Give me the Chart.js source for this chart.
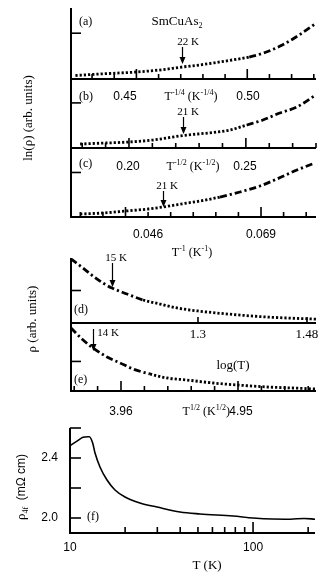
<!DOCTYPE html>
<html>
<head>
<meta charset="utf-8">
<script src="https://cdn.jsdelivr.net/npm/chart.js@4.4.1/dist/chart.umd.min.js"></script>
<style>
  body { margin: 0; background: #fff; }
  #wrap { position: relative; width: 327px; height: 580px; }
  #wrap canvas { position: absolute; left: 0; top: 0; }
</style>
</head>
<body>
<div id="wrap">
  <canvas id="pa" width="327" height="580"></canvas>
  <canvas id="pb" width="327" height="580"></canvas>
  <canvas id="pc" width="327" height="580"></canvas>
  <canvas id="pd" width="327" height="580"></canvas>
  <canvas id="pe" width="327" height="580"></canvas>
  <canvas id="pf" width="327" height="580"></canvas>
</div>
<script>
// (a) ln(rho) vs T^-1/4
const aX = [0.4225, 0.4333, 0.4500, 0.4604, 0.4707, 0.4784, 0.4860, 0.4932, 0.5009, 0.5086, 0.5158, 0.5234, 0.5306];
const aY = [0.076, 0.109, 0.153, 0.196, 0.262, 0.306, 0.360, 0.415, 0.480, 0.589, 0.742, 0.961, 1.201];
const aTicks = [0.43, 0.44, 0.45, 0.46, 0.47, 0.48, 0.49, 0.50, 0.51, 0.52, 0.53];
const aMajor = [0.45, 0.50];

// (b) ln(rho) vs T^-1/2
const bX = [0.1791, 0.1902, 0.2000, 0.2103, 0.2231, 0.2359, 0.2432, 0.2504, 0.2573, 0.2645, 0.2718, 0.2799];
const bY = [0.089, 0.111, 0.133, 0.177, 0.277, 0.344, 0.399, 0.510, 0.621, 0.776, 0.909, 1.175];
const bTicks = [0.18, 0.19, 0.20, 0.21, 0.22, 0.23, 0.24, 0.25, 0.26, 0.27, 0.28];
const bMajor = [0.20, 0.25];

// (c) ln(rho) vs T^-1
const cX = [0.03216, 0.03684, 0.04152, 0.04600, 0.04905, 0.05394, 0.05658, 0.06065, 0.06472, 0.06879, 0.07225, 0.07632, 0.07998];
const cY = [0.067, 0.090, 0.135, 0.180, 0.225, 0.314, 0.359, 0.449, 0.562, 0.696, 0.854, 1.056, 1.213];
const cTicks = [0.0322, 0.0368, 0.0414, 0.046, 0.0506, 0.0552, 0.0598, 0.0644, 0.069, 0.0736, 0.0782];
const cMajor = [0.0414, 0.069];

// (d) rho vs log(T)
const dX = [1.0903, 1.1101, 1.1266, 1.1431, 1.1580, 1.1828, 1.2092, 1.2372, 1.2653, 1.3000, 1.3578, 1.4139, 1.4883, 1.4949];
const dY = [0.985, 0.846, 0.723, 0.615, 0.538, 0.446, 0.354, 0.292, 0.231, 0.185, 0.131, 0.092, 0.062, 0.060];
const dTicks = [1.3, 1.48];

// (e) rho vs T^1/2
const eX = [3.537, 3.630, 3.723, 3.842, 3.952, 4.062, 4.205, 4.349, 4.518, 4.739, 4.950, 5.195, 5.416, 5.602];
const eY = [1.065, 0.879, 0.727, 0.575, 0.474, 0.372, 0.288, 0.220, 0.186, 0.135, 0.101, 0.068, 0.051, 0.034];
const eTicks = [3.564, 3.762, 3.96, 4.158, 4.356, 4.554, 4.752, 4.95, 5.148, 5.346, 5.544];
const eMajor = [3.96, 4.95];

// (f) rho_4f vs T
const fT = [10.0, 10.92, 11.78, 12.54, 12.75, 13.3, 13.7, 14.58, 15.93, 17.61, 19.98, 24.1, 29.9, 39.9, 51.3, 77.6, 100, 128, 160, 190, 218];
const fRho = [2.482, 2.513, 2.538, 2.542, 2.542, 2.50, 2.433, 2.34, 2.253, 2.187, 2.14, 2.10, 2.073, 2.04, 2.027, 2.013, 2.0, 1.993, 1.992, 1.997, 1.992];
const fTicksX = [20, 30, 40, 50, 60, 70, 80, 90, 100, 200];
const fTicksY = [2.0, 2.2, 2.4, 2.6];

const SERIF = '"Liberation Serif", "Times New Roman", serif';
const SANS = '"Liberation Sans", Arial, sans-serif';
const ser = (t, s = 12) => ({ t, f: SERIF, s });
const san = (t, s = 12) => ({ t, f: SANS, s });
const sup = (t) => ({ t, f: SERIF, s: 8, dy: -4 });
const sub = (t) => ({ t, f: SERIF, s: 8, dy: 3.5 });

const DOTS = [2.2, 2];
const DASHDOT = [7, 3, 2.2, 3];

function drawText(ctx, parts, x, y, align, rot) {
  let w = 0;
  parts.forEach(p => { ctx.font = p.s + 'px ' + p.f; w += ctx.measureText(p.t).width; });
  ctx.save();
  ctx.translate(x, y);
  if (rot) ctx.rotate(rot);
  let cx = align === 'center' ? -w / 2 : align === 'right' ? -w : 0;
  ctx.textAlign = 'left';
  ctx.textBaseline = 'middle';
  parts.forEach(p => {
    ctx.font = p.s + 'px ' + p.f;
    ctx.fillText(p.t, cx, p.dy || 0);
    cx += ctx.measureText(p.t).width;
  });
  ctx.restore();
}

// axes with inward ticks, labels, arrows and captions
const deco = {
  id: 'deco',
  afterDraw(chart, args, o) {
    const ctx = chart.ctx, a = chart.chartArea;
    const sx = chart.scales.x, sy = chart.scales.y;
    ctx.save();
    ctx.strokeStyle = '#000';
    ctx.fillStyle = '#000';
    ctx.lineWidth = 2;
    ctx.beginPath();
    ctx.moveTo(a.left, a.top);
    ctx.lineTo(a.left, a.bottom);
    ctx.lineTo(a.right, a.bottom);
    ctx.stroke();

    ctx.lineWidth = 1.6;
    o.xTicks.forEach(v => {
      const p = sx.getPixelForValue(v);
      const len = o.xMajor.includes(v) ? o.majorLen : o.minorLen;
      ctx.beginPath(); ctx.moveTo(p, a.bottom); ctx.lineTo(p, a.bottom - len); ctx.stroke();
    });
    o.yTicks.forEach(v => {
      const p = sy.getPixelForValue(v);
      ctx.beginPath(); ctx.moveTo(a.left, p); ctx.lineTo(a.left + o.yLen, p); ctx.stroke();
    });

    (o.xLabels || []).forEach(l => drawText(ctx, l.parts, sx.getPixelForValue(l.v) + (l.dx || 0), l.y, 'center'));
    (o.yLabels || []).forEach(l => drawText(ctx, l.parts, l.x, sy.getPixelForValue(l.v), 'right'));

    ctx.lineWidth = 1.2;
    (o.arrows || []).forEach(ar => {
      const p = Math.round(sx.getPixelForValue(ar.v)) + 0.5;
      ctx.beginPath(); ctx.moveTo(p, ar.y1); ctx.lineTo(p, ar.y2 - 5); ctx.stroke();
      ctx.beginPath();
      ctx.moveTo(p - 3, ar.y2 - 7); ctx.lineTo(p + 3, ar.y2 - 7); ctx.lineTo(p, ar.y2);
      ctx.closePath(); ctx.fill();
    });

    (o.texts || []).forEach(t => drawText(ctx, t.parts, t.x, t.y, t.align || 'left', t.rot));
    ctx.restore();
  }
};

function panel(id, box, xs, ys, x, y, line, decoOpts) {
  return new Chart(document.getElementById(id), {
    type: 'line',
    data: {
      datasets: [{
        data: xs.map((v, i) => ({ x: v, y: ys[i] })),
        borderColor: '#000',
        borderWidth: line.width,
        borderDash: line.dash || [],
        pointRadius: 0,
        cubicInterpolationMode: 'monotone',
        segment: line.segDash ? { borderDash: ctx => line.segDash(ctx.p0.parsed.x) } : undefined
      }]
    },
    options: {
      responsive: false,
      animation: false,
      events: [],
      layout: { padding: { left: box[0], top: box[1], right: 327 - box[2], bottom: 580 - box[3] } },
      plugins: { legend: { display: false }, tooltip: { enabled: false }, deco: decoOpts },
      scales: {
        x: Object.assign({ type: 'linear', display: false }, x),
        y: Object.assign({ type: 'linear', display: false }, y)
      }
    },
    plugins: [deco]
  });
}

panel('pa', [71, 8, 316, 79], aX, aY, { min: 0.4205, max: 0.531 }, { min: 0, max: 1.55 },
  { width: 2.8, segDash: v => v > 0.494 ? DASHDOT : DOTS },
  {
    xTicks: aTicks, xMajor: aMajor, majorLen: 10, minorLen: 5, yTicks: [1.0], yLen: 10,
    arrows: [{ v: 0.4707, y1: 47, y2: 64 }],
    texts: [
      { parts: [ser('(a)')], x: 79, y: 22 },
      { parts: [ser('SmCuAs', 13), sub('2')], x: 177, y: 22, align: 'center' },
      { parts: [ser('22 K', 11)], x: 188, y: 42, align: 'center' },
      { parts: [ser('ln(\u03c1) (arb. units)', 13)], x: 29, y: 118, align: 'center', rot: -Math.PI / 2 }
    ]
  });

panel('pb', [71, 79, 316, 148], bX, bY, { min: 0.1752, max: 0.28 }, { min: 0, max: 1.53 },
  { width: 2.8, segDash: v => v > 0.2445 ? DASHDOT : DOTS },
  {
    xTicks: bTicks, xMajor: bMajor, majorLen: 10, minorLen: 5, yTicks: [1.0], yLen: 10,
    arrows: [{ v: 0.2231, y1: 117, y2: 134 }],
    texts: [
      { parts: [ser('(b)')], x: 79, y: 97 },
      { parts: [san('0.45')], x: 125, y: 97, align: 'center' },
      { parts: [ser('T'), sup('-1/4'), ser(' (K'), sup('-1/4'), ser(')')], x: 191, y: 97, align: 'center' },
      { parts: [san('0.50')], x: 248, y: 97, align: 'center' },
      { parts: [ser('21 K', 11)], x: 188, y: 112, align: 'center' }
    ]
  });

panel('pc', [71, 148, 316, 217], cX, cY, { min: 0.0303, max: 0.0802 }, { min: 0, max: 1.55 },
  { width: 2.8, segDash: v => v > 0.0585 ? DASHDOT : DOTS },
  {
    xTicks: cTicks, xMajor: cMajor, majorLen: 10, minorLen: 5, yTicks: [1.0], yLen: 10,
    arrows: [{ v: 0.04905, y1: 191, y2: 207 }],
    xLabels: [{ v: 0.046, y: 235, parts: [san('0.046')] }, { v: 0.069, y: 235, parts: [san('0.069')] }],
    texts: [
      { parts: [ser('(c)')], x: 79, y: 164 },
      { parts: [san('0.20')], x: 128, y: 167, align: 'center' },
      { parts: [ser('T'), sup('-1/2'), ser(' (K'), sup('-1/2'), ser(')')], x: 193, y: 167, align: 'center' },
      { parts: [san('0.25')], x: 245, y: 167, align: 'center' },
      { parts: [ser('21 K', 11)], x: 167, y: 186, align: 'center' },
      { parts: [ser('T'), sup('-1'), ser(' (K'), sup('-1'), ser(')')], x: 192, y: 253, align: 'center' }
    ]
  });

panel('pd', [71, 258, 316, 323], dX, dY, { min: 1.0903, max: 1.4949 }, { min: 0, max: 1.0 },
  { width: 2.8, segDash: v => v < 1.205 ? DASHDOT : DOTS },
  {
    xTicks: dTicks, xMajor: dTicks, majorLen: 6, minorLen: 6, yTicks: [0.5], yLen: 10,
    arrows: [{ v: 1.158, y1: 263, y2: 287 }],
    xLabels: [{ v: 1.3, y: 335, parts: [ser('1.3', 13)] }, { v: 1.48, y: 335, parts: [ser('1.48', 13)] }],
    texts: [
      { parts: [ser('15 K', 11)], x: 116, y: 258, align: 'center' },
      { parts: [ser('(d)')], x: 74, y: 310 },
      { parts: [ser('\u03c1 (arb. units)', 13)], x: 33, y: 319, align: 'center', rot: -Math.PI / 2 }
    ]
  });

panel('pe', [71, 323, 316, 391], eX, eY, { min: 3.537, max: 5.61 }, { min: 0, max: 1.15 },
  { width: 2.8, segDash: v => v < 4.09 ? DASHDOT : DOTS },
  {
    xTicks: eTicks, xMajor: eMajor, majorLen: 10, minorLen: 5, yTicks: [0.5], yLen: 10,
    arrows: [{ v: 3.725, y1: 329, y2: 351 }],
    xLabels: [{ v: 3.96, y: 412, parts: [san('3.96')] }, { v: 4.95, y: 412, dx: 3, parts: [san('4.95')] }],
    texts: [
      { parts: [ser('14 K', 11)], x: 108, y: 333, align: 'center' },
      { parts: [ser('log(T)', 13)], x: 233, y: 366, align: 'center' },
      { parts: [ser('(e)')], x: 74, y: 380 },
      { parts: [ser('T'), sup('1/2'), ser(' (K'), sup('1/2'), ser(')')], x: 230, y: 412, align: 'right' }
    ]
  });

panel('pf', [70, 428, 315, 533], fT, fRho, { type: 'logarithmic', min: 10, max: 218 }, { min: 1.9, max: 2.6 },
  { width: 1.6 },
  {
    xTicks: fTicksX, xMajor: [100], majorLen: 11, minorLen: 6, yTicks: fTicksY, yLen: 11,
    xLabels: [{ v: 10, y: 548, parts: [san('10', 12)] }, { v: 100, y: 548, parts: [san('100', 12)] }],
    yLabels: [{ v: 2.4, x: 58, parts: [san('2.4', 12)] }, { v: 2.0, x: 58, parts: [san('2.0', 12)] }],
    texts: [
      { parts: [ser('(f)')], x: 87, y: 517 },
      { parts: [ser('T (K)', 13)], x: 207, y: 566, align: 'center' },
      { parts: [ser('\u03c1', 13), sub('4f'), san('  (m\u03a9 cm)', 12)], x: 22, y: 487, align: 'center', rot: -Math.PI / 2 }
    ]
  });
</script>
</body>
</html>
